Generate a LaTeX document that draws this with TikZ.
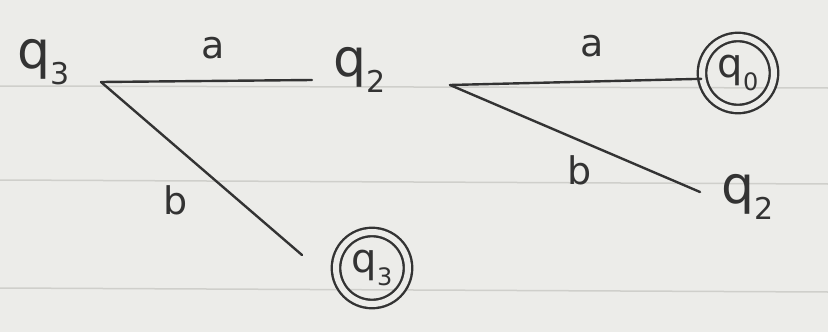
\documentclass[tikz,border=0pt]{standalone}
\usepackage{fontspec}
\setmainfont{DejaVu Sans}
\newcommand{\stq}[1]{q\raisebox{-0.32em}{\fontsize{30}{32}\selectfont #1}}
\newcommand{\stqs}[1]{q\raisebox{-0.32em}{\fontsize{24}{26}\selectfont #1}}
\begin{document}
\begin{tikzpicture}[x=1pt,y=-1pt,
  ink/.style={draw=black!80, line width=2.4pt, line cap=round},
  st/.style={inner sep=0pt, text=black!80, font=\fontsize{52}{56}\selectfont},
  lbl/.style={inner sep=0pt, text=black!80, font=\fontsize{38}{42}\selectfont},
  acc/.style={circle, draw=black!80, line width=2.4pt, double=paperc, double distance=6pt, minimum size=72pt, inner sep=0pt, text=black!80, font=\fontsize{40}{44}\selectfont}]
\definecolor{paperc}{HTML}{ECECE9}
\definecolor{rule}{HTML}{CFCFCB}
\fill[paperc] (0,0) rectangle (828,332);
\useasboundingbox (0,0) rectangle (828,332);
\draw[rule, line width=1.5pt] (0,86) -- (828,88);
\draw[rule, line width=1.5pt] (0,180) -- (828,184);
\draw[rule, line width=1.5pt] (0,288) -- (828,292);
% states
\node[st] (q3L) at (44,62) {\stq{3}};
\node[st] (q2M) at (360,70) {\stq{2}};
\node[acc] (q0) at (738,73) {\stqs{0}};
\node[st] (q2R) at (748,197) {\stq{2}};
\node[acc] (q3B) at (372,268) {\stqs{3}};
% junctions
\coordinate (s1) at (101,82);
\coordinate (s2) at (450,85);
\coordinate (e1) at (312,80);
\coordinate (e3) at (700,192);
\coordinate (e4) at (302,255);
% edges
\draw[ink] (s1) -- (e1);
\draw[ink] (s1) -- (e4);
\draw[ink] (s2) -- (q0.189);
\draw[ink] (s2) -- (e3);
% labels
\node[lbl] (la1) at (213,48) {a};
\node[lbl] (lb1) at (176,200) {b};
\node[lbl] (la2) at (592,46) {a};
\node[lbl] (lb2) at (580,170) {b};
\end{tikzpicture}
\end{document}
